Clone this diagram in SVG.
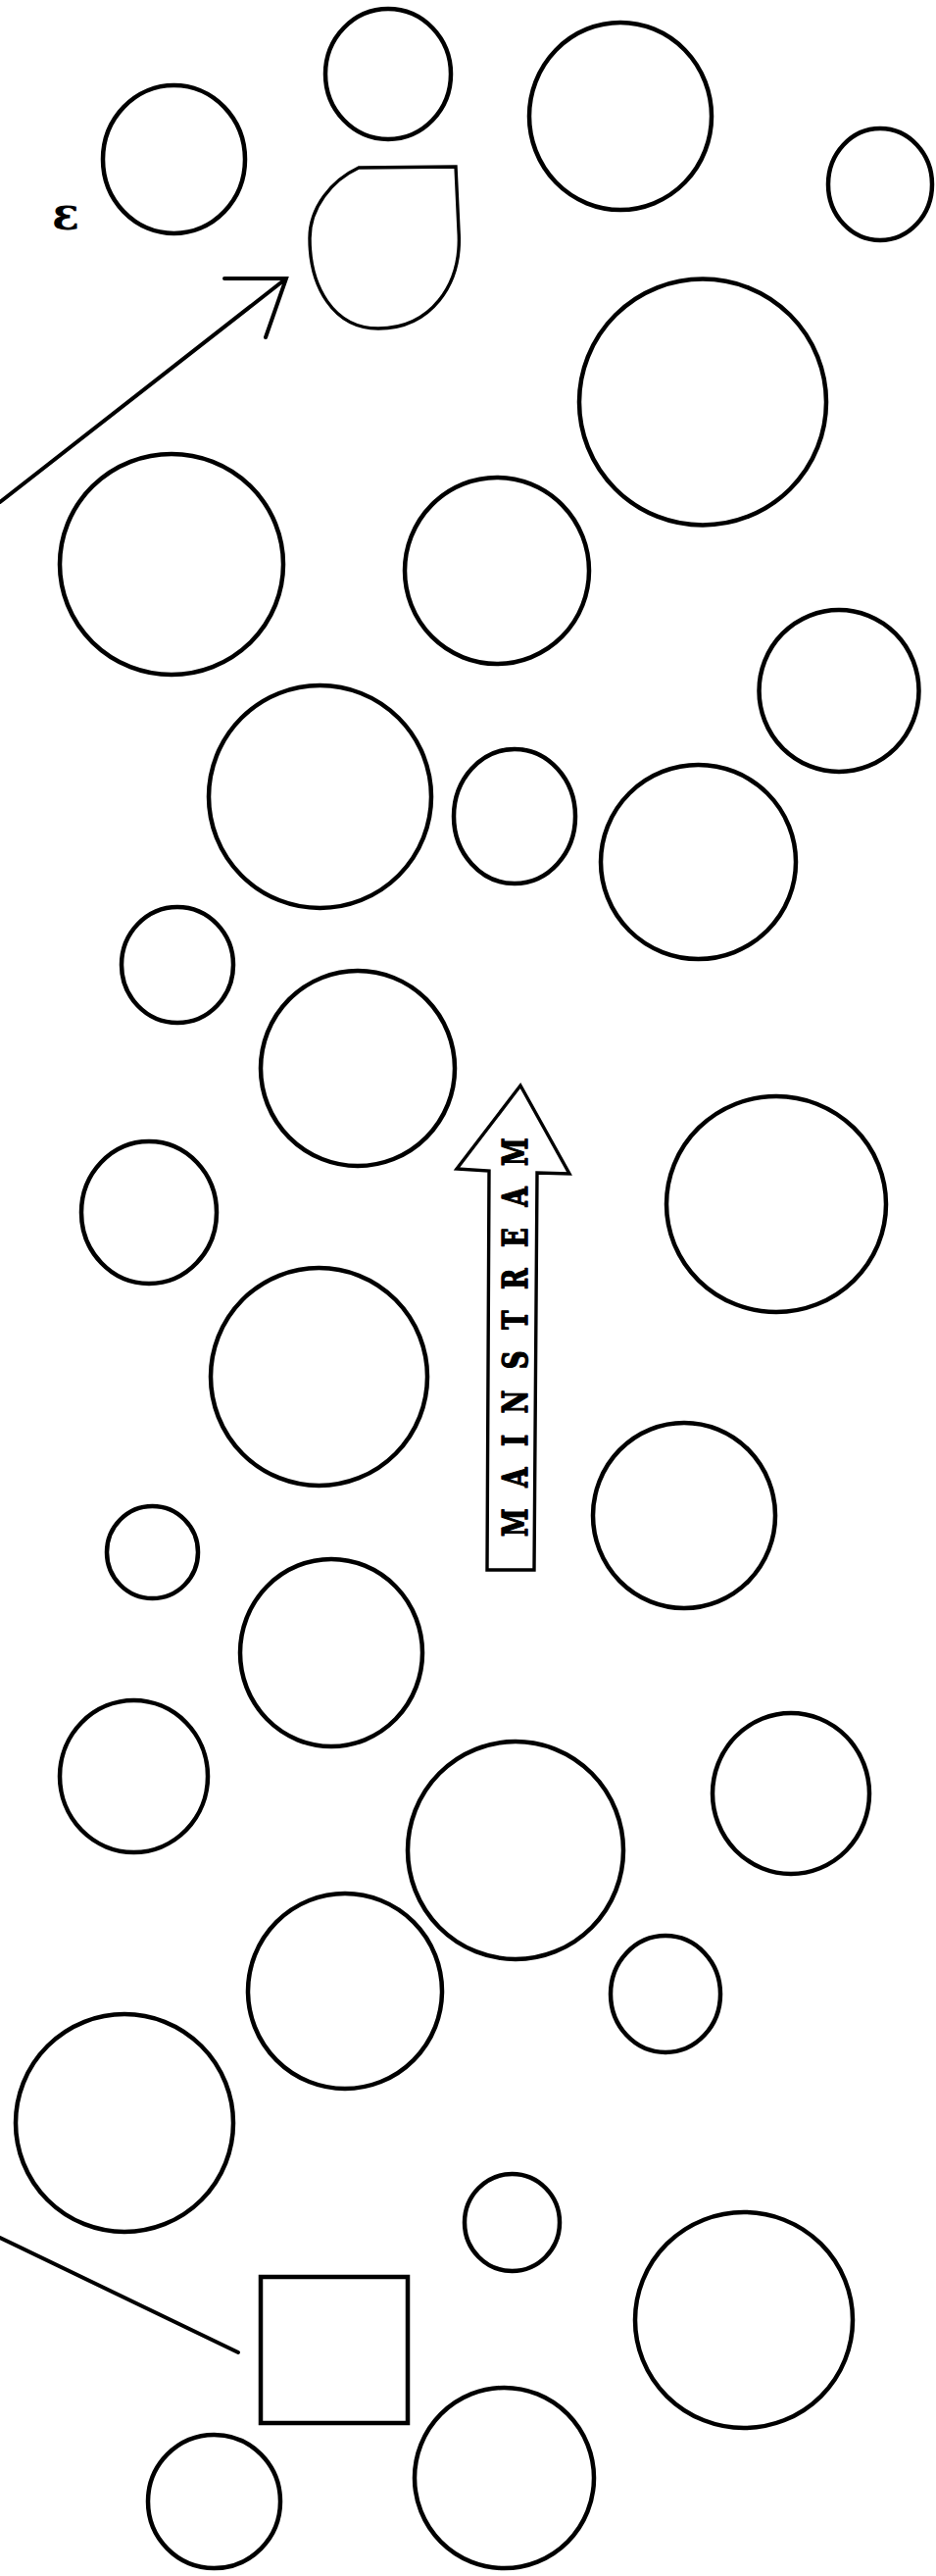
<svg xmlns="http://www.w3.org/2000/svg" width="955" height="2627" viewBox="0 0 955 2627">
<style>
.c{fill:none;stroke:#000;stroke-width:4.5}
.t{fill:none;stroke:#000;stroke-width:3.4}
.ln{fill:none;stroke:#000;stroke-width:4;stroke-linecap:round;stroke-linejoin:miter}
.lbl{font-family:"DejaVu Serif","Liberation Serif",serif;font-weight:bold;fill:#000}
.ms{stroke:#000;stroke-width:1.4;stroke-linejoin:round}
</style>
<rect width="955" height="2627" fill="#fff"/>
<g id="label-eps"><text class="lbl" x="53" y="234" font-size="46">ε</text></g>
<g id="n1"><ellipse class="c" cx="177.5" cy="162.5" rx="72.5" ry="75.5"/></g>
<g id="n2"><ellipse class="c" cx="396" cy="75.5" rx="64" ry="66.5"/></g>
<g id="n3"><ellipse class="c" cx="633" cy="118.5" rx="93" ry="95.5"/></g>
<g id="n4"><ellipse class="c" cx="898" cy="188" rx="53" ry="57"/></g>
<g id="n5"><path class="t" d="M366,171 L465,170 L468,235 C472,292 438,335 386,335 C340,335 316,292 316,243 C316,212 338,184 366,171 Z"/></g>
<g id="n6"><ellipse class="c" cx="717" cy="410" rx="126" ry="125.5"/></g>
<g id="n7"><ellipse class="c" cx="175" cy="575.5" rx="114" ry="112.5"/></g>
<g id="n8"><ellipse class="c" cx="507" cy="582" rx="94" ry="95"/></g>
<g id="n9"><ellipse class="c" cx="856" cy="704.5" rx="81.5" ry="82.5"/></g>
<g id="n10"><ellipse class="c" cx="326.5" cy="812.5" rx="113.5" ry="113.5"/></g>
<g id="n11"><ellipse class="c" cx="525" cy="832.5" rx="62" ry="68.5"/></g>
<g id="n12"><ellipse class="c" cx="712.5" cy="879" rx="99.5" ry="99"/></g>
<g id="n13"><ellipse class="c" cx="181" cy="984" rx="57" ry="59"/></g>
<g id="n14"><ellipse class="c" cx="365" cy="1089.5" rx="99" ry="99.5"/></g>
<g id="n15"><ellipse class="c" cx="152" cy="1236.5" rx="69" ry="72.5"/></g>
<g id="n16"><ellipse class="c" cx="792" cy="1228" rx="112" ry="110"/></g>
<g id="n17"><ellipse class="c" cx="325.5" cy="1404" rx="110.5" ry="111"/></g>
<g id="n18"><ellipse class="c" cx="155.5" cy="1583" rx="46.5" ry="47"/></g>
<g id="n19"><ellipse class="c" cx="698" cy="1545.5" rx="93" ry="94.5"/></g>
<g id="n20"><ellipse class="c" cx="338" cy="1685.5" rx="93" ry="95.5"/></g>
<g id="n21"><ellipse class="c" cx="136.5" cy="1811.5" rx="75.5" ry="77.5"/></g>
<g id="n22"><ellipse class="c" cx="526" cy="1887" rx="110" ry="111"/></g>
<g id="n23"><ellipse class="c" cx="807" cy="1829" rx="80" ry="82"/></g>
<g id="n24"><ellipse class="c" cx="352" cy="2030.5" rx="99" ry="99.5"/></g>
<g id="n25"><ellipse class="c" cx="679" cy="2033.5" rx="56" ry="59.5"/></g>
<g id="n26"><ellipse class="c" cx="127" cy="2165" rx="111" ry="111"/></g>
<g id="n27"><ellipse class="c" cx="522.5" cy="2266.5" rx="48.5" ry="49.5"/></g>
<g id="n28"><ellipse class="c" cx="759" cy="2366" rx="111" ry="110"/></g>
<g id="n29"><ellipse class="c" cx="218.5" cy="2551" rx="67.5" ry="68"/></g>
<g id="n30"><ellipse class="c" cx="514.5" cy="2527" rx="91.5" ry="92"/></g>
<g id="box"><rect class="c" x="266" y="2322" width="150" height="149"/></g>
<g id="mainstream">
<path class="t" d="M531,1107 L581,1197 L548,1196 L545,1601 L497,1601 L499,1194 L466,1192 Z"/>
<text class="lbl ms" font-size="36" transform="translate(538,1567) rotate(-90) scale(0.72,1)" textLength="565" lengthAdjust="spacing">MAINSTREAM</text>
</g>
<g id="connectors">
<path class="ln" d="M0,512 L292,284 M229,284 L292,284 L271,344"/>
<path class="ln" d="M0,2282 L243,2399"/>
</g>
</svg>
